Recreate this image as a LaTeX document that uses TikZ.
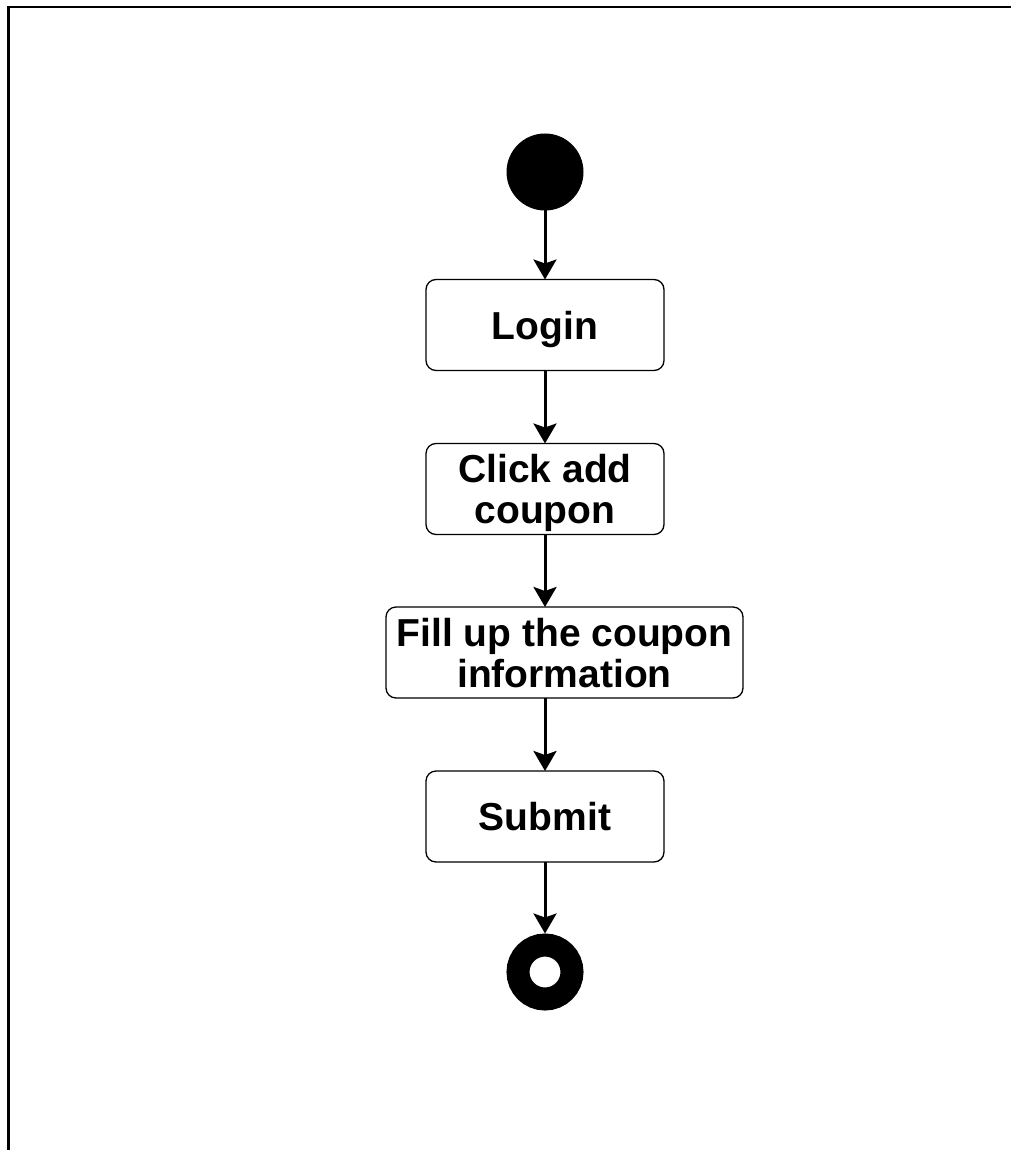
\documentclass[tikz,border=0pt]{standalone}
\usepackage{fontspec}
\setmainfont{Liberation Sans}
\usetikzlibrary{arrows.meta}

\begin{document}
\begin{tikzpicture}[x=1pt,y=-1pt,
	font=\fontsize{39}{41}\selectfont\bfseries,
	act/.style={draw,rounded corners=10pt,line width=1.3pt,minimum width=238pt,minimum height=91pt,inner sep=0pt,outer sep=0pt,align=center,text depth=0pt},
	flow/.style={line width=3pt,-{Stealth[length=20pt,width=23pt,inset=4pt]}}]
	\useasboundingbox (0,0) rectangle (1011,1150);
	\draw[line width=2.5pt] (8.5,1150) -- (8.5,7) -- (1011,7);
	
	\node[circle,fill,minimum size=77pt,inner sep=0pt,outer sep=0pt] (start) at (545,172) {};
	\node[act] (login) at (545,325) {Login};
	\node[act] (click) at (545,489) {Click add\\coupon};
	\node[act,minimum width=357pt] (fill) at (564.5,652.5) {Fill up the coupon\\information};
	\node[act] (submit) at (545,816.5) {Submit};
	\node[circle,draw,fill=white,line width=23pt,minimum size=54pt,inner sep=0pt] (end) at (545,972) {};
	
	\draw[flow] (start) -- (login);
	\draw[flow] (login) -- (click);
	\draw[flow] (click) -- (click |- fill.north);
	\draw[flow] (fill.south -| submit) -- (submit);
	\draw[flow] (submit) -- (end);
\end{tikzpicture}
\end{document}
